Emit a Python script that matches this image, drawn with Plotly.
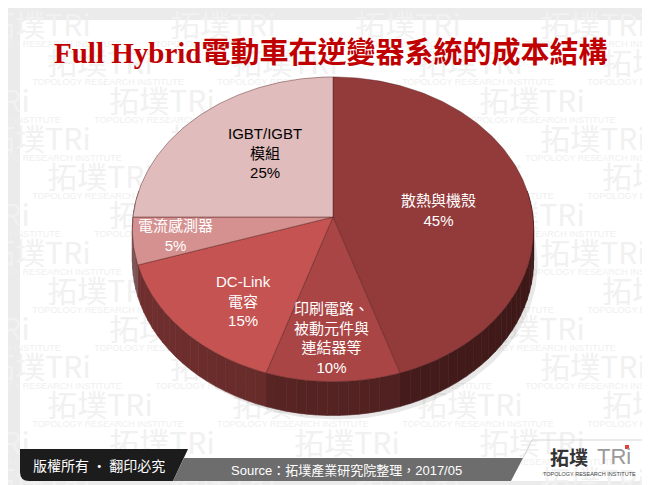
import numpy as np
import plotly.graph_objects as go

# ---------------- data ----------------
categories = ["散熱與機殼", "印刷電路、被動元件與連結器等", "DC-Link電容", "電流感測器", "IGBT/IGBT模組"]
label_lines = [["散熱與機殼"], ["印刷電路、", "被動元件與", "連結器等"], ["DC-Link", "電容"],
               ["電流感測器"], ["IGBT/IGBT", "模組"]]
values = [45, 10, 15, 5, 25]
top_colors = ["#933b3a", "#a94645", "#c45351", "#d59190", "#e0bcbc"]
text_colors = ["white", "white", "white", "white", "black"]
title_latin = "Full Hybrid"
title_cjk = "電動車在逆變器系統的成本結構"
source_text = "Source：拓墣產業研究院整理，2017/05"
copyright_text = "版權所有 · 翻印必究"
watermark_main = "拓墣TRi"
watermark_sub = "TOPOLOGY RESEARCH INSTITUTE"

# ---------------- pie geometry (3D perspective) ----------------
CX, CY = 325.0, 209.0      # projected pie centre
A, B = 200.0, 151.4        # horizontal / vertical radii
K = 0.081                  # perspective strength
H = 31.0                   # thickness
# label placement (angle in deg, radial fraction)
label_pos = [(85, 0.53), (180.5, 0.75), (219, 0.68), (261, 0.79), (321, 0.56)]


def proj(theta_deg, r=1.0, depth=0.0):
    t = np.radians(theta_deg)
    u = r * np.sin(t)
    v = r * np.cos(t)
    s = 1.0 / (1.0 + K * v)
    return CX + A * u * s, CY - B * v * s + H * depth * s


def hex2rgb(h):
    h = h.lstrip("#")
    return tuple(int(h[i:i + 2], 16) for i in (0, 2, 4))


def shade(h, f):
    r, g, b = hex2rgb(h)
    return "rgb(%d,%d,%d)" % (r * f, g * f, b * f)


total = float(sum(values))
bounds = []
acc = 0.0
for v in values:
    a0 = acc / total * 360.0
    acc += v
    a1 = acc / total * 360.0
    bounds.append((a0, a1))

fig = go.Figure()

# faint background watermark (drawn first, beneath the pie)
wm_x, wm_y, wm_x2, wm_y2 = [], [], [], []
for j in range(13):
    y = 20 + 38 * j
    off = (j % 3) * 62
    for i in range(-1, 5):
        x = 30 + off + 185 * i
        wm_x.append(x)
        wm_y.append(y)
        wm_x2.append(x + 8)
        wm_y2.append(y + 17)
fig.add_trace(go.Scatter(x=wm_x, y=wm_y, mode="text", text=[watermark_main] * len(wm_x),
                         textfont=dict(size=30, color="#f1f1f1", family="Noto Sans CJK TC"),
                         hoverinfo="skip", showlegend=False))
fig.add_trace(go.Scatter(x=wm_x2, y=wm_y2, mode="text", text=[watermark_sub] * len(wm_x2),
                         textfont=dict(size=9, color="#efefef", family="Liberation Sans"),
                         hoverinfo="skip", showlegend=False))

# soft shadow
sh = np.linspace(0, 360, 181)
sx, sy = [], []
for a in sh:
    x, y = proj(a, 1.0, 1.0)
    sx.append(x + 4)
    sy.append(y + 4)
fig.add_trace(go.Scatter(x=sx, y=sy, fill="toself", fillcolor="rgba(0,0,0,0.09)",
                         line=dict(width=0), mode="lines", hoverinfo="skip", showlegend=False))

# side walls (strips with shading)
for (a0, a1), col in zip(bounds, top_colors):
    lo, hi = max(a0, 80.0), min(a1, 280.0)
    if hi <= lo:
        continue
    n = max(1, int(np.ceil((hi - lo) / 3.0)))
    edges = np.linspace(lo, hi, n + 1)
    for e0, e1 in zip(edges[:-1], edges[1:]):
        arc = np.linspace(e0, e1, 4)
        xs, ys = [], []
        for a in arc:
            x, y = proj(a, 1.0, 0.0)
            xs.append(x); ys.append(y)
        for a in arc[::-1]:
            x, y = proj(a, 1.0, 1.0)
            xs.append(x); ys.append(y)
        xs.append(xs[0]); ys.append(ys[0])
        um = np.sin(np.radians((e0 + e1) / 2))
        f = 0.50 - 0.08 * um
        c = shade(col, f)
        fig.add_trace(go.Scatter(x=xs, y=ys, fill="toself", fillcolor=c, mode="lines",
                                 line=dict(color=c, width=0.6), hoverinfo="skip",
                                 showlegend=False))

# top faces
for (a0, a1), col in zip(bounds, top_colors):
    arc = np.linspace(a0, a1, max(3, int((a1 - a0) / 1.0) + 1))
    xs, ys = [CX], [CY]
    for a in arc:
        x, y = proj(a)
        xs.append(x); ys.append(y)
    xs.append(CX); ys.append(CY)
    fig.add_trace(go.Scatter(x=xs, y=ys, fill="toself", fillcolor=col, mode="lines",
                             line=dict(color="rgba(80,25,25,0.55)", width=0.8),
                             hoverinfo="skip", showlegend=False))

# labels
annotations = []
for lines, v, (ang, r), tc in zip(label_lines, values, label_pos, text_colors):
    x, y = proj(ang, r)
    annotations.append(dict(x=x, y=y, xref="x", yref="y", showarrow=False,
                            text="<br>".join(lines + ["%d%%" % v]),
                            font=dict(size=15, color=tc,
                                      family="Arial, Liberation Sans, Noto Sans CJK TC"),
                            align="center"))

# title
annotations.append(dict(x=322, y=45, xref="x", yref="y", showarrow=False,
                        text="<b>%s%s</b>" % (title_latin, title_cjk),
                        font=dict(size=29, color="#c00000",
                                  family="Liberation Serif, Times New Roman, Noto Sans CJK TC")))

# footer texts
annotations.append(dict(x=91, y=457, xref="x", yref="y", showarrow=False, text=copyright_text,
                        font=dict(size=14, color="white", family="Noto Sans CJK TC")))
annotations.append(dict(x=338, y=462, xref="x", yref="y", showarrow=False, text=source_text,
                        font=dict(size=13, color="white",
                                  family="Liberation Sans, Noto Sans CJK TC")))
# logo
annotations.append(dict(x=561, y=448, xref="x", yref="y", showarrow=False, text="<b>拓墣</b>",
                        font=dict(size=19, color="#333333", family="Noto Sans CJK TC")))
annotations.append(dict(x=606, y=448, xref="x", yref="y", showarrow=False, text="TRi",
                        font=dict(size=22, color="#9a9a9a", family="Liberation Sans")))
annotations.append(dict(x=581, y=466, xref="x", yref="y", showarrow=False,
                        text="TOPOLOGY RESEARCH INSTITUTE",
                        font=dict(size=5.5, color="#444444", family="Liberation Sans")))

shapes = [
    # white panel
    dict(type="path", xref="x", yref="y", layer="below",
         path="M 21,12 L 629,12 Q 638,12 638,21 L 638,464 Q 638,473 629,473 L 21,473 Q 12,473 12,464 L 12,21 Q 12,12 21,12 Z",
         fillcolor="white", line=dict(width=0)),
    # black tab
    dict(type="path", xref="x", yref="y",
         path="M 12,441 L 180,441 L 165,473 L 21,473 Q 12,473 12,464 Z",
         fillcolor="#1c1c1c", line=dict(width=0)),
    # grey bar
    dict(type="path", xref="x", yref="y",
         path="M 176,450 L 515,450 L 503,473 L 165,473 Z",
         fillcolor="#6d6d6d", line=dict(width=0)),
    # thin frame line near logo
    dict(type="path", xref="x", yref="y",
         path="M 515,450 L 524,432 L 638,432",
         line=dict(color="#d6d6d6", width=1)),
    # red dot of logo
    dict(type="rect", xref="x", yref="y", x0=617, x1=621, y0=437, y1=441,
         fillcolor="#e0403a", line=dict(width=0)),
]

fig.update_layout(
    width=650, height=485, margin=dict(l=0, r=0, t=0, b=0),
    paper_bgcolor="#ebebeb", plot_bgcolor="rgba(0,0,0,0)",
    xaxis=dict(range=[0, 650], visible=False, fixedrange=True),
    yaxis=dict(range=[485, 0], visible=False, fixedrange=True),
    showlegend=False, annotations=annotations, shapes=shapes,
)

fig.write_html("out.html")
